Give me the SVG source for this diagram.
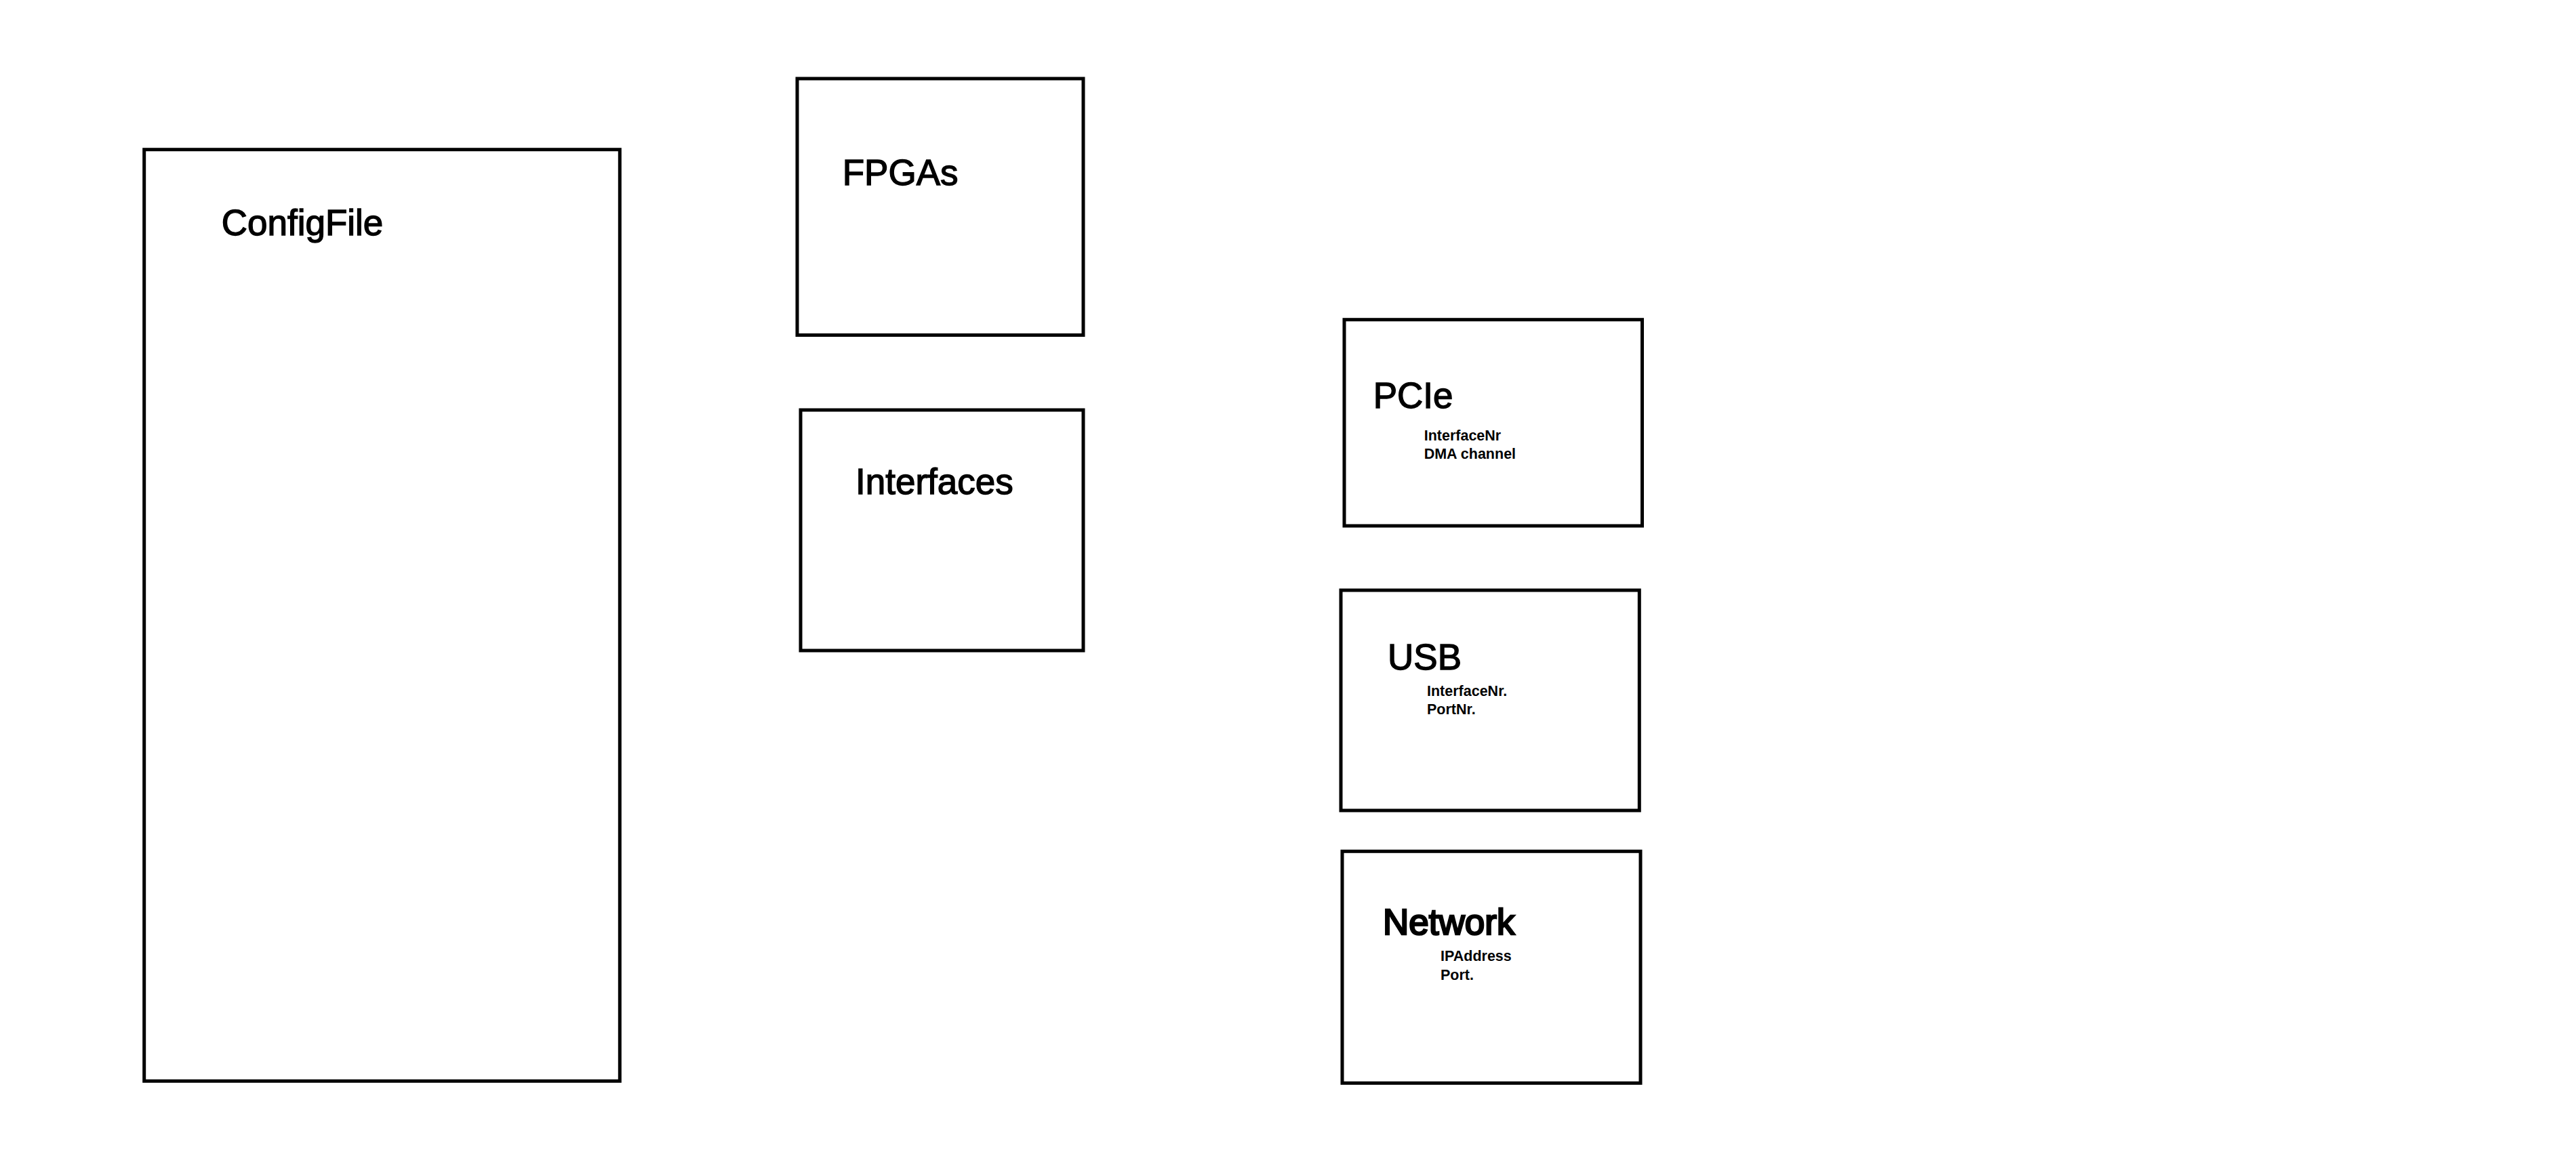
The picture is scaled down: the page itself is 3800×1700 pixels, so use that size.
<svg xmlns="http://www.w3.org/2000/svg" width="3800" height="1700" viewBox="0 0 3800 1700">
<style>
.box{fill:#ffffff;stroke:#000000;stroke-width:5}
.title{font-family:"Liberation Sans",Arial,sans-serif;font-size:53px;fill:#000000;stroke:#000000;stroke-width:1.4}
.heavy{stroke-width:2.6}
.sub{font-family:"Liberation Sans",Arial,sans-serif;font-size:21.5px;font-weight:bold;fill:#000000}
</style>
<rect width="3800" height="1700" fill="#ffffff"/>
<g id="connectors"></g>
<g id="configfile">
<rect class="box" x="212.7" y="220.7" width="701.6" height="1374.6"/>
<text class="title" x="326.7" y="346.7" font-size="54.5">ConfigFile</text>
</g>
<g id="fpgas">
<rect class="box" x="1176" y="116" width="422" height="378.5"/>
<text class="title" x="1242.7" y="273.3" font-size="52">FPGAs</text>
</g>
<g id="interfaces">
<rect class="box" x="1181" y="605" width="417" height="355"/>
<text class="title" x="1262" y="729" font-size="54.5">Interfaces</text>
</g>
<g id="pcie">
<rect class="box" x="1983" y="471.7" width="439.5" height="304.3"/>
<text class="title" x="2025.7" y="602.3">PCIe</text>
<text class="sub" x="2100.7" y="650">InterfaceNr</text>
<text class="sub" x="2100.7" y="677.3">DMA channel</text>
</g>
<g id="usb">
<rect class="box" x="1978" y="871" width="440.3" height="325"/>
<text class="title" x="2047" y="987.7">USB</text>
<text class="sub" x="2105" y="1026.7">InterfaceNr.</text>
<text class="sub" x="2105" y="1054.3">PortNr.</text>
</g>
<g id="network">
<rect class="box" x="1980" y="1256.3" width="440" height="342"/>
<text class="title heavy" x="2040" y="1379.3">Network</text>
<text class="sub" x="2125" y="1418.3">IPAddress</text>
<text class="sub" x="2125" y="1445.7">Port.</text>
</g>
</svg>
